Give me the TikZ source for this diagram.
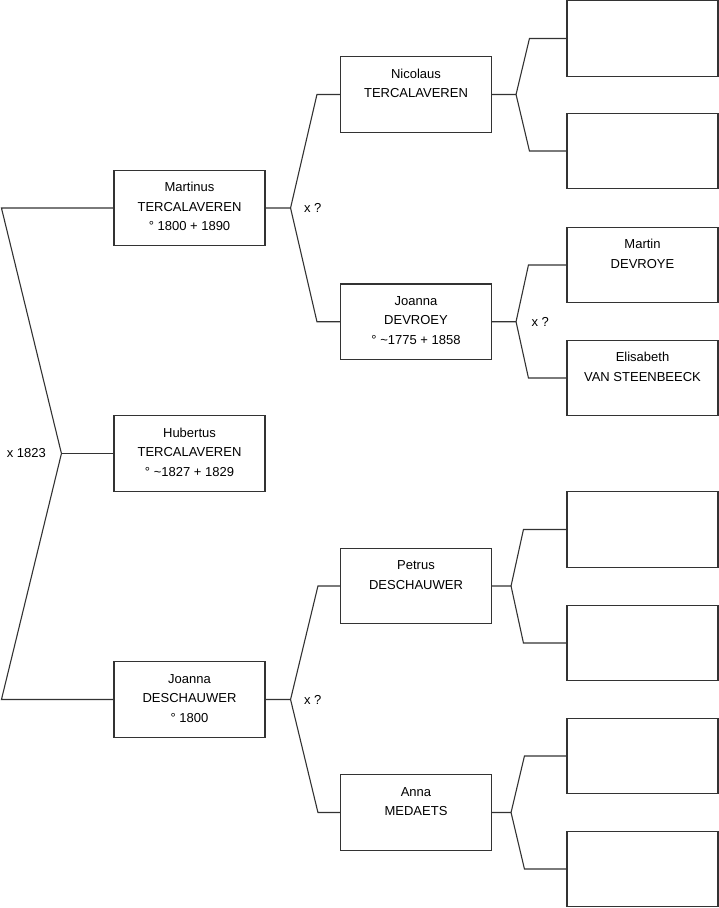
\documentclass[tikz,border=0pt]{standalone}
\usepackage{fontspec}
\setmainfont{Liberation Sans}
\usetikzlibrary{positioning}

% top-aligned lines inside a box
\newcommand{\persontext}[1]{\begin{tabular}[t]{@{}c@{}}#1\end{tabular}}

\begin{document}
\begin{tikzpicture}[
        x=1pt, y=-1pt,
        person/.style={draw=black!80, line width=1.1pt, rectangle, inner sep=0pt,
            minimum width=151pt, text height=21.5pt, text depth=54pt,
            font=\fontsize{13}{19.5}\selectfont},
        link/.style={draw=black!80, line width=1.1pt},
        marr/.style={font=\fontsize{13}{15}\selectfont}
    ]
        \useasboundingbox (0,0) rectangle (719,908);

        % first generation
        \node[person] (martinus) at (189.5,208) {\persontext{Martinus\\TERCALAVEREN\\° 1800 + 1890}};
        \node[person] (hubertus) at (189.5,453.5) {\persontext{Hubertus\\TERCALAVEREN\\° \textasciitilde1827 + 1829}};
        \node[person] (joannaD) at (189.5,699.5) {\persontext{Joanna\\DESCHAUWER\\° 1800}};

        % second generation
        \node[person] (nicolaus) at (416,94.5) {\persontext{Nicolaus\\TERCALAVEREN}};
        \node[person] (joannaV) at (416,321.7) {\persontext{Joanna\\DEVROEY\\° \textasciitilde1775 + 1858}};
        \node[person] (petrus) at (416,586) {\persontext{Petrus\\DESCHAUWER}};
        \node[person] (anna) at (416,812.5) {\persontext{Anna\\MEDAETS}};

        % third generation
        \node[person] (nicF) at (642.5,38.5) {};
        \node[person] (nicM) at (642.5,151) {};
        \node[person] (martin) at (642.5,265) {\persontext{Martin\\DEVROYE}};
        \node[person] (elisabeth) at (642.5,378) {\persontext{Elisabeth\\VAN STEENBEECK}};
        \node[person] (petF) at (642.5,529.5) {};
        \node[person] (petM) at (642.5,643) {};
        \node[person] (annaF) at (642.5,756) {};
        \node[person] (annaM) at (642.5,869) {};

        % links
        \draw[link] (hubertus.west) -- ++(-52,0) coordinate (j1);
        \draw[link] (martinus.west) -- ([xshift=-112pt]martinus.west) -- (j1)
            -- ([xshift=-112pt]joannaD.west) -- (joannaD.west);
        \node[marr, left=12pt of j1] {x 1823};

        \draw[link] (martinus.east) -- ++(25,0) coordinate (j2)
            -- ([xshift=-23pt]nicolaus.west) -- (nicolaus.west);
        \draw[link] (j2) -- ([xshift=-23pt]joannaV.west) -- (joannaV.west);
        \node[marr, right=10pt of j2] {x ?};

        \draw[link] (joannaD.east) -- ++(25,0) coordinate (j3)
            -- ([xshift=-22pt]petrus.west) -- (petrus.west);
        \draw[link] (j3) -- ([xshift=-22pt]anna.west) -- (anna.west);
        \node[marr, right=10pt of j3] {x ?};

        \draw[link] (nicolaus.east) -- ++(24,0) coordinate (j4)
            -- ([xshift=-37pt]nicF.west) -- (nicF.west);
        \draw[link] (j4) -- ([xshift=-37pt]nicM.west) -- (nicM.west);

        \draw[link] (joannaV.east) -- ++(24,0) coordinate (j5)
            -- ([xshift=-38pt]martin.west) -- (martin.west);
        \draw[link] (j5) -- ([xshift=-38pt]elisabeth.west) -- (elisabeth.west);
        \node[marr, right=12pt of j5] {x ?};

        \draw[link] (petrus.east) -- ++(19,0) coordinate (j6)
            -- ([xshift=-43pt]petF.west) -- (petF.west);
        \draw[link] (j6) -- ([xshift=-43pt]petM.west) -- (petM.west);

        \draw[link] (anna.east) -- ++(19,0) coordinate (j7)
            -- ([xshift=-42pt]annaF.west) -- (annaF.west);
        \draw[link] (j7) -- ([xshift=-42pt]annaM.west) -- (annaM.west);
    \end{tikzpicture}
\end{document}
